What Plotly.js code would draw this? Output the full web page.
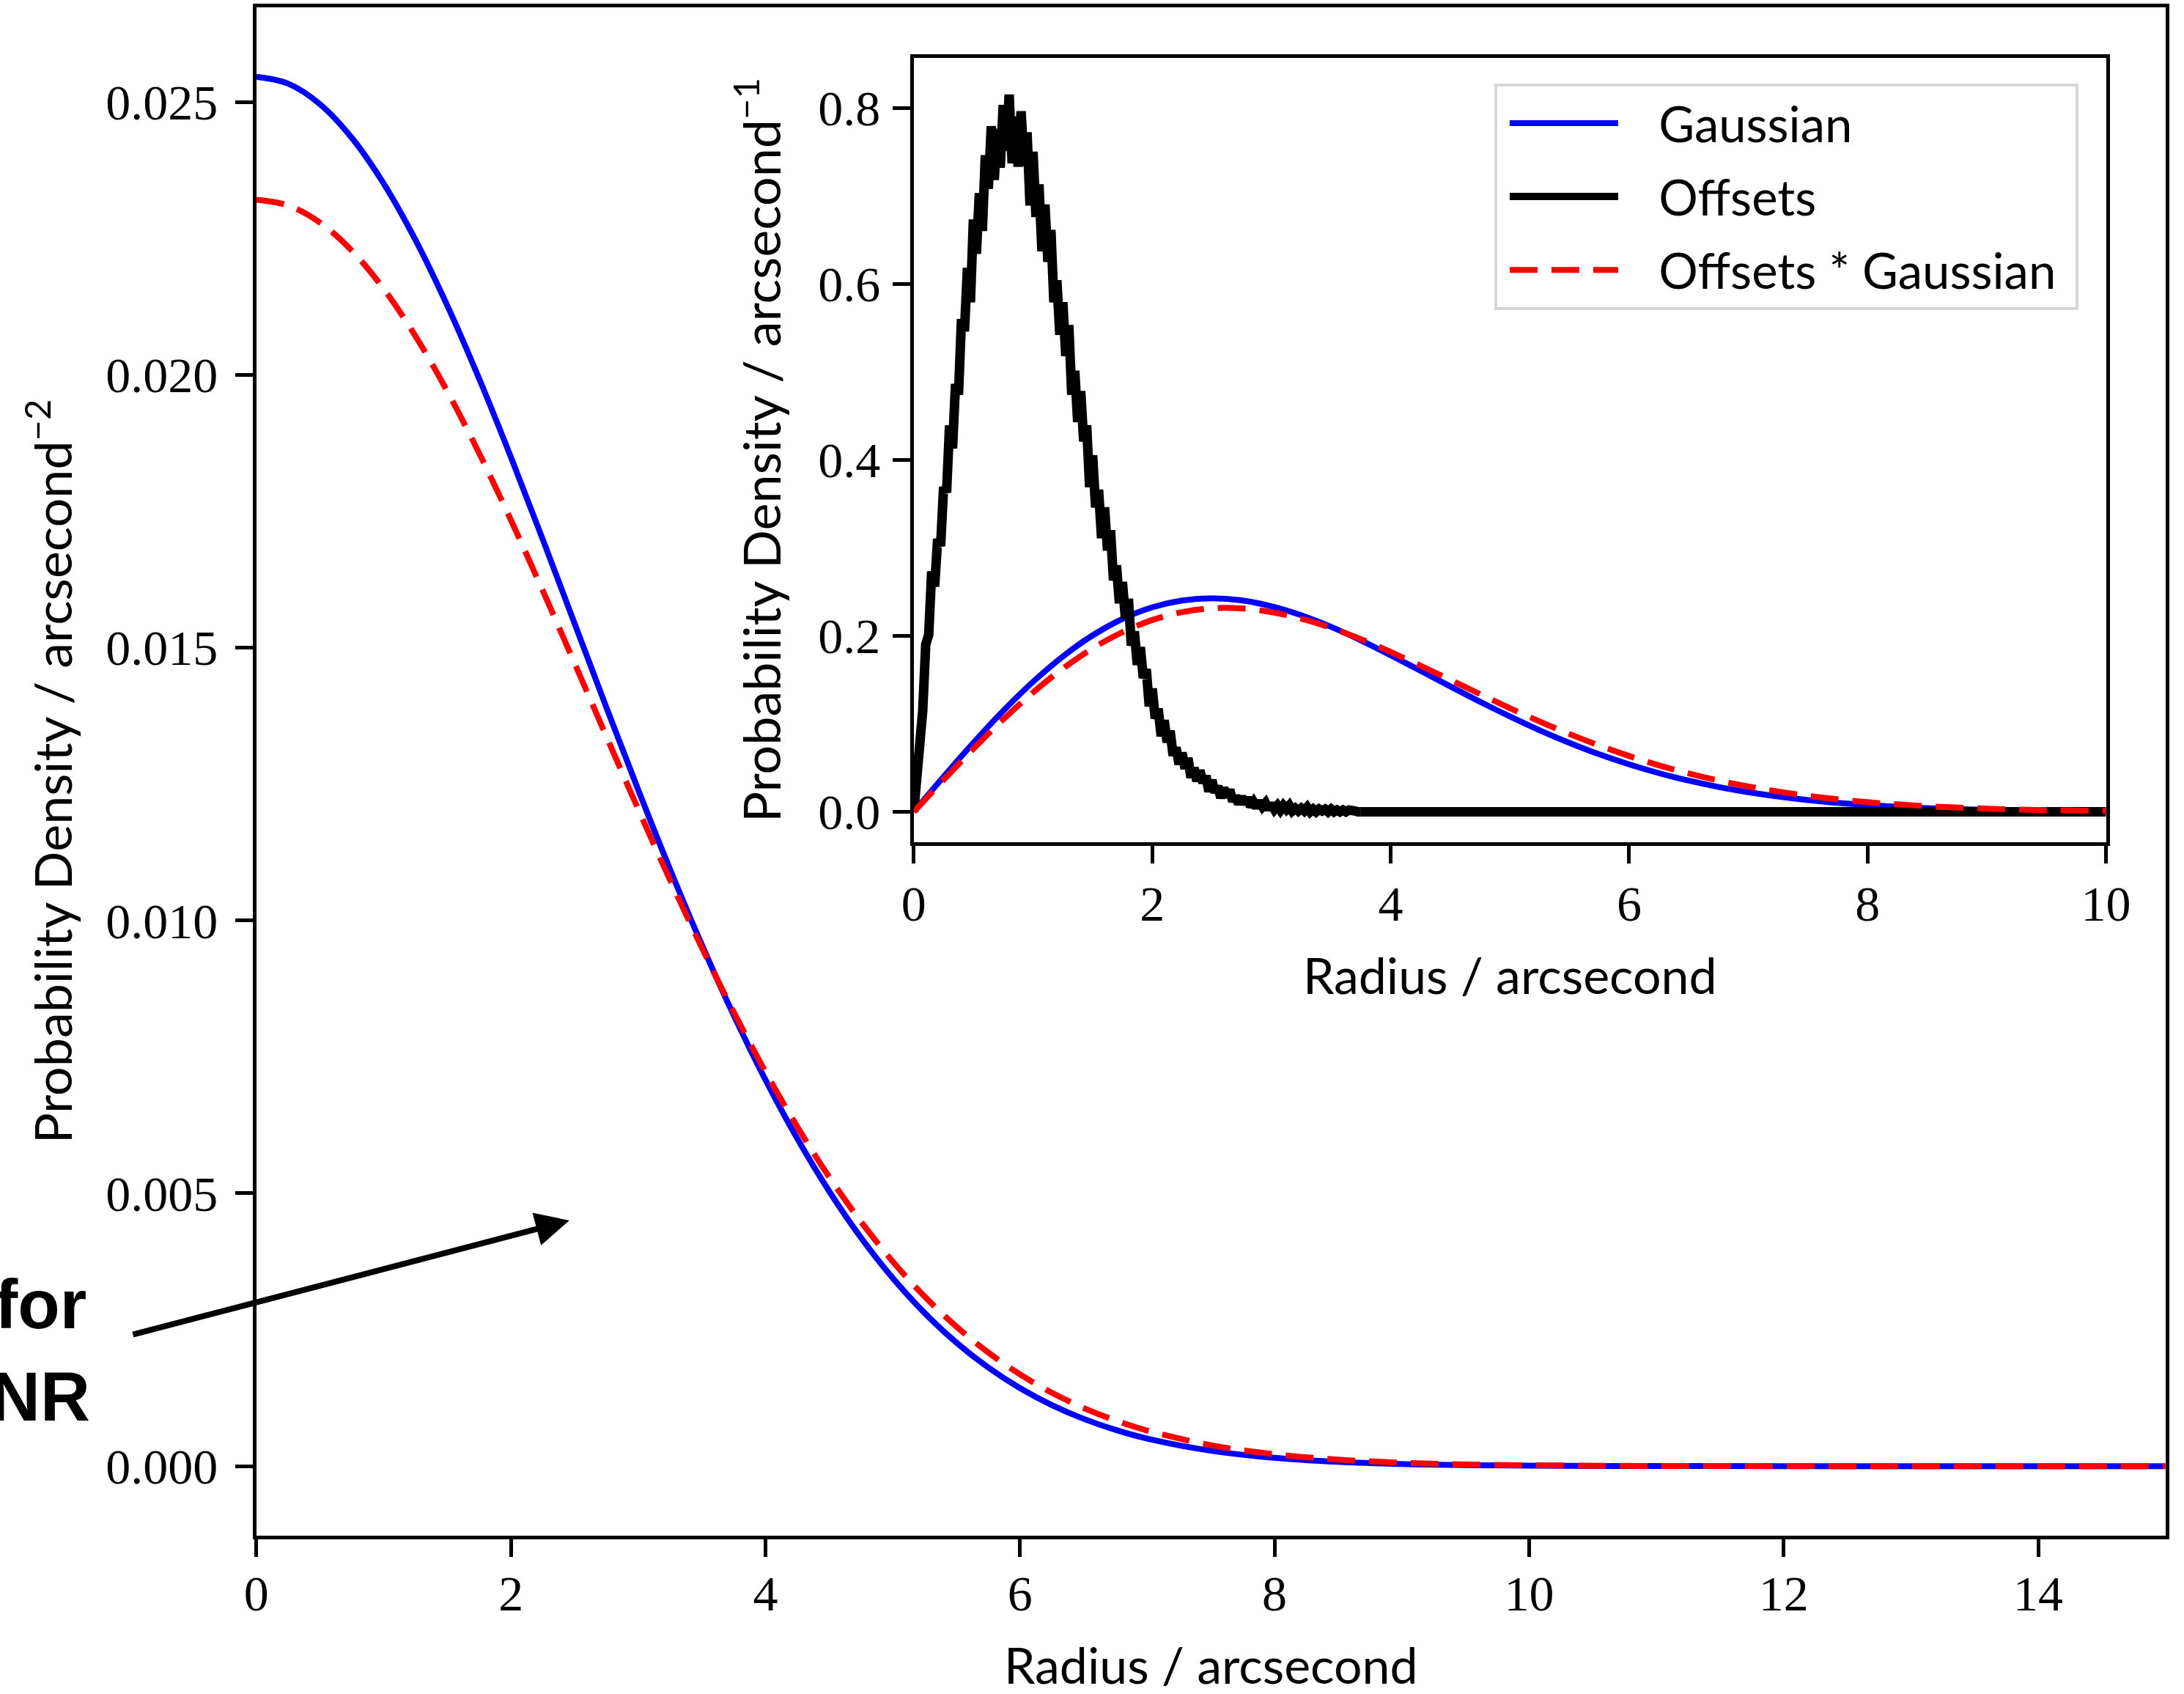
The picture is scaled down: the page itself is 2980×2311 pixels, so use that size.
<!DOCTYPE html>
<html>
<head>
<meta charset="utf-8">
<script src="https://cdn.plot.ly/plotly-3.0.1.min.js"></script>
<style>html,body{margin:0;padding:0;background:#fff;}#chart{width:2980px;height:2311px;}</style>
</head>
<body>
<div id="chart"></div>
<script>
// ---------- main panel: 2-D density vs radius ----------
const radiusMain = [0,0.25,0.5,0.75,1,1.25,1.5,1.75,2,2.25,2.5,2.75,3,3.25,3.5,3.75,4,4.25,4.5,4.75,5,5.25,5.5,5.75,6,6.25,6.5,6.75,7,7.5,8,8.5,9,9.5,10,11,12,13,14,15];
const gaussianMain = [0.025465,0.025338,0.024961,0.024344,0.023507,0.022473,0.021270,0.019932,0.018491,0.016985,0.015445,0.013906,0.012395,0.010939,0.009557,0.008267,0.007080,0.006003,0.005040,0.004188,0.003446,0.002808,0.002264,0.001808,0.001429,0.001119,0.000867,0.000665,0.000505,0.000283,0.000152,0.000079,0.000039,0.000019,0.000009,0.000002,0,0,0,0];
const convolvedMain = [0.023210,0.023105,0.022791,0.022277,0.021578,0.020711,0.019698,0.018566,0.017339,0.016047,0.014716,0.013373,0.012042,0.010745,0.009502,0.008325,0.007228,0.006220,0.005303,0.004481,0.003751,0.003111,0.002558,0.002084,0.001682,0.001345,0.001066,0.000838,0.000652,0.000384,0.000218,0.000120,0.000063,0.000032,0.000016,0.000003,0.000001,0,0,0];

// ---------- inset: radial (1-D) densities ----------
const radiusInset = [0,0.25,0.5,0.75,1,1.25,1.5,1.75,2,2.25,2.5,2.75,3,3.25,3.5,3.75,4,4.25,4.5,4.75,5,5.25,5.5,5.75,6,6.25,6.5,6.75,7,7.5,8,8.5,9,9.5,10];
const gaussianInset = [0,0.0398,0.0784,0.1147,0.1477,0.1765,0.2005,0.2192,0.2324,0.2401,0.2426,0.2403,0.2336,0.2234,0.2102,0.1948,0.1779,0.1603,0.1425,0.1250,0.1083,0.0926,0.0783,0.0653,0.0539,0.0439,0.0354,0.0282,0.0222,0.0133,0.0077,0.0042,0.0022,0.0011,0.0005];
const convolvedInset = [0,0.0363,0.0716,0.1050,0.1356,0.1627,0.1857,0.2041,0.2179,0.2269,0.2312,0.2311,0.2270,0.2194,0.2090,0.1962,0.1817,0.1661,0.1499,0.1337,0.1178,0.1026,0.0884,0.0753,0.0634,0.0528,0.0436,0.0355,0.0287,0.0181,0.0110,0.0064,0.0036,0.0019,0.0010];

// Offsets histogram (bins of 0.025 arcsec starting at 0), noisy
const offsetsStart = 0;
const offsetsBin = 0.025;
const offsetsDensity = [0,0.038,0.098,0.115,0.190,0.201,0.273,0.256,0.310,0.302,
 0.369,0.363,0.439,0.413,0.486,0.474,0.560,0.546,0.618,0.579,
 0.673,0.634,0.703,0.660,0.746,0.708,0.779,0.718,0.776,0.732,
 0.803,0.751,0.815,0.737,0.790,0.733,0.796,0.734,0.772,0.689,
 0.750,0.676,0.713,0.637,0.690,0.625,0.661,0.579,0.604,0.542,
 0.579,0.518,0.553,0.474,0.501,0.443,0.478,0.421,0.439,0.369,
 0.405,0.346,0.366,0.311,0.346,0.297,0.320,0.263,0.280,0.237,
 0.261,0.220,0.242,0.189,0.205,0.167,0.187,0.152,0.162,0.120,
 0.140,0.106,0.117,0.086,0.104,0.079,0.092,0.064,0.073,0.054,
 0.067,0.049,0.061,0.039,0.050,0.035,0.047,0.033,0.041,0.023,
 0.036,0.022,0.029,0.016,0.027,0.017,0.025,0.012,0.018,0.009,
 0.017,0.009,0.016,0.006,0.011,0.005,0.012,0.006,0.010,0.003,
 0.009,0.003,0.007,0.002,0.007,0.003,0.007,0.001,0.004,0.001,
 0.004,0.001,0.005,0.000,0.003,0.000,0.003,0.001,0.003,0.000,
 0.003,0.000,0.002,0.000,0.002,0.000,0.002,0.000,0.001,0.000,
 0.000];
const offsetsTailRadius = [3.75, 10];
const offsetsTailDensity = [0, 0];

const seriesNames = ['Gaussian', 'Offsets', 'Offsets * Gaussian'];
const mainXTicks = [0,2,4,6,8,10,12,14];
const mainYTicks = [0,0.005,0.01,0.015,0.02,0.025];
const insetXTicks = [0,2,4,6,8,10];
const insetYTicks = [0,0.2,0.4,0.6,0.8];
const sideTexts = ['for', 'NR'];

// ---------- styles ----------
const BLUE = '#0000ff', RED = '#ff0000', BLACK = '#000000';
const tickFont = {family: 'Liberation Serif, Times New Roman, serif', size: 68, color: '#000'};
const labelFont = {family: 'Lato, Roboto, sans-serif', size: 68, color: '#000'};
const yLabelFont = {family: 'Lato, Roboto, sans-serif', size: 70, color: '#000'};
const dashPat = '38px,19px';
const legendPad = '\u2002\u2005';
const legendTail = '\u2005\u200A';

const traces = [
  {x: radiusMain, y: gaussianMain, xaxis: 'x', yaxis: 'y', type: 'scatter', mode: 'lines',
   line: {color: BLUE, width: 8, shape: 'spline'}, showlegend: false, name: seriesNames[0]},
  {x: radiusMain, y: convolvedMain, xaxis: 'x', yaxis: 'y', type: 'scatter', mode: 'lines',
   line: {color: RED, width: 8, dash: dashPat, shape: 'spline'}, showlegend: false, name: seriesNames[2]},
  {x: radiusInset, y: gaussianInset, xaxis: 'x2', yaxis: 'y2', type: 'scatter', mode: 'lines',
   line: {color: BLUE, width: 8, shape: 'spline'}, name: legendPad + seriesNames[0], legendgroup: 'g1'},
  {x0: offsetsStart, dx: offsetsBin, y: offsetsDensity, xaxis: 'x2', yaxis: 'y2', type: 'scatter', mode: 'lines',
   line: {color: BLACK, width: 13}, name: legendPad + seriesNames[1], legendgroup: 'g2'},
  {x: offsetsTailRadius, y: offsetsTailDensity, xaxis: 'x2', yaxis: 'y2', type: 'scatter', mode: 'lines',
   line: {color: BLACK, width: 13}, name: seriesNames[1], legendgroup: 'g2', showlegend: false},
  {x: radiusInset, y: convolvedInset, xaxis: 'x2', yaxis: 'y2', type: 'scatter', mode: 'lines',
   line: {color: RED, width: 8, dash: dashPat, shape: 'spline'}, name: legendPad + seriesNames[2] + legendTail, legendgroup: 'g3'}
];

const axisBase = {
  showline: true, linecolor: '#000', linewidth: 5, mirror: true,
  ticks: 'outside', ticklen: 24, tickwidth: 5, tickcolor: '#000',
  showgrid: false, zeroline: false, tickfont: tickFont, automargin: false
};

const layout = {
  width: 2980, height: 2311, autosize: false,
  margin: {l: 0, r: 0, t: 0, b: 0, pad: 0},
  paper_bgcolor: '#ffffff', plot_bgcolor: '#ffffff',
  showlegend: true,
  xaxis: Object.assign({}, axisBase, {
    domain: [0.1174, 0.9915], range: [0, 15], anchor: 'y',
    tickvals: mainXTicks, tickformat: 'd', ticklabelstandoff: -9,
    title: {text: 'Radius / arcsecond', font: labelFont, standoff: 42}
  }),
  yaxis: Object.assign({}, axisBase, {
    domain: [0.0935, 0.9957], range: [-0.001273, 0.026738], anchor: 'x',
    tickvals: mainYTicks, tickformat: '.3f', ticklabelstandoff: 10,
    title: {text: 'Probability Density / arcsecond<sup>\u22122</sup>', font: yLabelFont, standoff: 24}
  }),
  xaxis2: Object.assign({}, axisBase, {
    domain: [0.4184, 0.9643], range: [0, 10], anchor: 'y2',
    tickvals: insetXTicks, tickformat: 'd', ticklabelstandoff: -4,
    title: {text: 'Radius / arcsecond', font: labelFont, standoff: 40}
  }),
  yaxis2: Object.assign({}, axisBase, {
    domain: [0.5026, 0.9660], range: [-0.035, 0.857], anchor: 'x2',
    tickvals: insetYTicks, tickformat: '.1f', ticklabelstandoff: 3,
    title: {text: 'Probability Density / arcsecond<sup>\u22121</sup>', font: yLabelFont, standoff: 29}
  }),
  legend: {
    x: 0.6842, y: 0.9507, xanchor: 'left', yanchor: 'top',
    bgcolor: '#ffffff', bordercolor: '#d6d6d6', borderwidth: 4,
    font: {family: 'Lato, Roboto, sans-serif', size: 67, color: '#000'},
    itemwidth: 148, tracegroupgap: 10, traceorder: 'grouped', indentation: 12
  },
  annotations: [
    {xref: 'paper', yref: 'paper', x: 0.0403, y: 0.2300, xanchor: 'right', yanchor: 'middle',
     text: sideTexts[0], showarrow: false,
     font: {family: 'Liberation Sans, Arial, sans-serif', size: 94, color: '#000', weight: 'bold'}},
    {xref: 'paper', yref: 'paper', x: 0.0420, y: 0.1755, xanchor: 'right', yanchor: 'middle',
     text: sideTexts[1], showarrow: false,
     font: {family: 'Liberation Sans, Arial, sans-serif', size: 94, color: '#000', weight: 'bold'}},
    {xref: 'paper', yref: 'paper', x: 0.2607, y: 0.2795, text: '', showarrow: true,
     ax: -597, ay: 156, arrowhead: 2, arrowsize: 1.15, arrowwidth: 8, arrowcolor: '#000', standoff: 0}
  ]
};

Plotly.newPlot('chart', traces, layout, {staticPlot: true, displayModeBar: false});
</script>
</body>
</html>
